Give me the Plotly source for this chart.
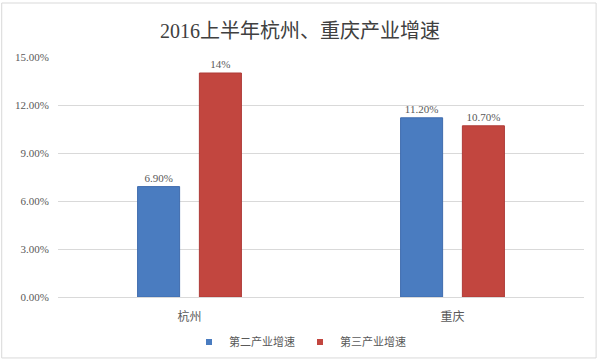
import plotly.graph_objects as go

cities = ["杭州", "重庆"]
series_names = ["第二产业增速", "第三产业增速"]
secondary = [6.9, 11.2]
tertiary = [14.0, 10.7]
secondary_labels = ["6.90%", "11.20%"]
tertiary_labels = ["14%", "10.70%"]
y_ticks = [0, 3, 6, 9, 12, 15]
y_tick_labels = ["0.00%", "3.00%", "6.00%", "9.00%", "12.00%", "15.00%"]
title = "2016上半年杭州、重庆产业增速"
colors = ["#4A7CC0", "#C2463F"]
edge_colors = ["#3F6CAE", "#AE3B37"]

FONT = "'Liberation Serif', 'DejaVu Serif', 'Noto Sans CJK SC', serif"

fig = go.Figure()
for name, vals, labels, c, ec in zip(series_names, [secondary, tertiary],
                                     [secondary_labels, tertiary_labels],
                                     colors, edge_colors):
    fig.add_trace(go.Bar(
        x=cities, y=vals, name=name, showlegend=False,
        text=labels, textposition="outside", cliponaxis=False,
        marker=dict(color=c, line=dict(color=ec, width=1)),
        textfont=dict(size=11, color="#595959", family=FONT),
    ))
# small square legend markers, like the original
for name, c in zip(series_names, colors):
    fig.add_trace(go.Scatter(
        x=[None], y=[None], mode="markers", name=name,
        marker=dict(symbol="square", size=6, color=c),
    ))

fig.update_layout(
    width=600, height=362,
    margin=dict(l=58, r=16, t=57, b=65, autoexpand=False),
    paper_bgcolor="white", plot_bgcolor="white",
    barmode="group", bargap=0.53, bargroupgap=0.32,
    title=dict(text=title, x=0.5, xanchor="center", y=0.915, yanchor="middle",
               font=dict(size=20, color="#404040", family=FONT)),
    font=dict(family=FONT, color="#595959", size=11),
    legend=dict(orientation="h", xref="container", yref="container",
                x=0.5, xanchor="center", y=0.055, yanchor="middle",
                font=dict(size=11, color="#595959", family=FONT),
                itemwidth=30, traceorder="normal"),
    showlegend=True,
)
fig.update_yaxes(
    range=[0, 15], tickvals=y_ticks, ticktext=y_tick_labels,
    showgrid=True, gridcolor="#D9D9D9", gridwidth=1, zeroline=False,
    showline=False, ticks="", ticklen=0, ticklabelstandoff=8,
    tickfont=dict(size=11, color="#595959", family=FONT),
)
fig.update_xaxes(
    showline=True, linecolor="#D9D9D9", linewidth=1, ticks="",
    ticklabelstandoff=9,
    tickfont=dict(size=12, color="#595959", family=FONT),
)
fig.add_shape(type="rect", xref="paper", yref="paper",
              x0=-0.107, x1=1.023, y0=-0.254, y1=1.225,
              line=dict(color="#D9D9D9", width=1), fillcolor="rgba(0,0,0,0)",
              layer="below")

fig.write_html(
    "out.html",
    config={"displayModeBar": False},
    post_script="document.body.style.margin='0';document.body.style.overflow='hidden';",
)
